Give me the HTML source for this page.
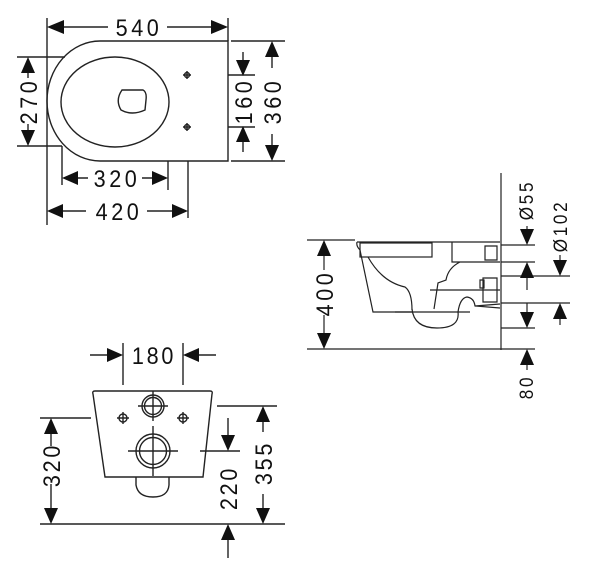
<!DOCTYPE html>
<html><head><meta charset="utf-8"><style>
html,body{margin:0;padding:0;background:#fff;}
svg{display:block;}
text{font-family:"Liberation Sans",sans-serif;fill:#111;}
</style></head><body>
<svg width="600" height="584" viewBox="0 0 600 584" xmlns="http://www.w3.org/2000/svg">
<g stroke="#222" stroke-width="1.4" fill="none">
<!-- TOP VIEW -->
<path d="M100,41 L228,41 L228,161 L100,161 A53,60 0 0 1 100,41 Z"/>
<ellipse cx="115" cy="102" rx="54" ry="45"/>
<path d="M122,90 L143,90 Q147,92 146,100 L145,110 Q132,116 121,110 Q115,100 122,90 Z"/>
<circle cx="187" cy="75" r="2.5"/><path d="M183,75h8M187,71v8"/>
<circle cx="187" cy="127" r="2.5"/><path d="M183,127h8M187,123v8"/>
<path d="M47,18V225M228,18V41M17,57H65M17,146H62M228,75H255M228,127H255M231,41H285M231,161H285M62,146V185M168,161V190M188,161V218"/>
<path d="M62,27H108M167,27H213M28,71V78M28,124V132M243,52V60M243,142V152M272,55V68M272,134V147M78,178H88M142,178H152M63,211H86M147,211H172"/>
</g>
<g fill="#111">
<polygon points="47,27 64,20 64,34"/><polygon points="228,27 211,20 211,34"/>
<polygon points="28,57 21,73 35,73"/><polygon points="28,146 21,130 35,130"/>
<polygon points="243,76 236,60 250,60"/><polygon points="243,126 236,142 250,142"/>
<polygon points="272,41 265,57 279,57"/><polygon points="272,161 265,145 279,145"/>
<polygon points="62,178 78,171 78,185"/><polygon points="168,178 152,171 152,185"/>
<polygon points="47,211 63,204 63,218"/><polygon points="188,211 172,204 172,218"/>
</g>
<g font-size="24" letter-spacing="4" text-anchor="middle">
<text transform="translate(139,36) scale(0.9,1)">540</text>
<text transform="translate(117,187) scale(0.9,1)">320</text>
<text transform="translate(119,220) scale(0.9,1)">420</text>
<text transform="translate(37,101) rotate(-90) scale(0.9,1)">270</text>
<text transform="translate(252,101) rotate(-90) scale(0.9,1)">160</text>
<text transform="translate(281,101) rotate(-90) scale(0.9,1)">360</text>
</g>

<!-- SIDE VIEW -->
<g stroke="#222" stroke-width="1.2" fill="none">
<path d="M501,173V350M307,349H501M307,240H355"/>
<path d="M357,242 L500,242 M357,242 Q356,246 360,250 L373,312 L413,312 M412,309 Q414,328 437,328 Q460,328 458,312 Q460,298 467,297 Q474,298 475,306 L500,308"/>
<rect x="360" y="243" width="72" height="14"/>
<path d="M368,257 Q382,282 405,287 Q412,292 412,310"/>
<path d="M452,242 V262 H500 M460,262 Q448,268 446,280 L438,283 L434,309 M430,290H500 M483,278h14v24h-14z M485,246h12v14h-12z M480,280h4v8h-4z M475,306 L500,304 M395,312H470"/>
<path d="M501,245H535M501,262H535M501,276H570M501,303H570M501,328H535M501,349H535"/>
<path d="M324,256V270M324,315V333M527,226V229M527,278V290M527,303V312M527,365V370M560,255V260M560,319V325"/>
</g>
<g fill="#111">
<polygon points="324,240 317,256 331,256"/><polygon points="324,349 317,333 331,333"/>
<polygon points="527,245 520,229 534,229"/><polygon points="527,262 520,278 534,278"/>
<polygon points="560,276 553,260 567,260"/><polygon points="560,303 553,319 567,319"/>
<polygon points="527,328 520,312 534,312"/><polygon points="527,349 520,365 534,365"/>
</g>
<g font-size="24" letter-spacing="4" text-anchor="middle">
<text transform="translate(333,293) rotate(-90) scale(0.9,1)">400</text>
</g>
<g font-size="19" letter-spacing="3" text-anchor="middle">
<text transform="translate(533,200) rotate(-90) scale(0.9,1)">Ø55</text>
<text transform="translate(567,226) rotate(-90) scale(0.9,1)">Ø102</text>
<text transform="translate(533,387) rotate(-90) scale(0.9,1)">80</text>
</g>

<!-- FRONT VIEW -->
<g stroke="#222" stroke-width="1.4" fill="none">
<path d="M95,391 H210 Q213,391 212,394 L203,477 H105 L93,394 Q92,391 95,391 Z"/>
<path d="M136,477 V485 Q138,497 153,497 Q168,497 169,485 V477"/>
<circle cx="153" cy="406" r="11"/><circle cx="153" cy="406" r="8.5"/>
<path d="M138,406H168M153,391V421"/>
<circle cx="153" cy="451" r="17"/><circle cx="153" cy="451" r="13.5"/>
<path d="M128,451H178M153,426V476"/>
<circle cx="123" cy="418" r="4"/><path d="M117,418h12M123,412v12"/>
<circle cx="183" cy="418" r="4"/><path d="M177,418h12M183,412v12"/>
<path d="M123,343V385M183,343V385M90,355H107M199,355H216"/>
<path d="M40,418H91M40,524H285M200,451H240M217,406H277"/>
<path d="M51,434V446M51,484V508M228,418V435M228,540V558M263,422V432M263,494V508"/>
</g>
<g fill="#111">
<polygon points="123,355 107,348 107,362"/><polygon points="183,355 199,348 199,362"/>
<polygon points="51,418 44,434 58,434"/><polygon points="51,524 44,508 58,508"/>
<polygon points="228,451 221,435 235,435"/><polygon points="228,524 221,540 235,540"/>
<polygon points="263,406 256,422 270,422"/><polygon points="263,524 256,508 270,508"/>
</g>
<g font-size="24" letter-spacing="3" text-anchor="middle">
<text transform="translate(154,364) scale(0.9,1)">180</text>
<text transform="translate(60,465) rotate(-90) scale(0.9,1)">320</text>
<text transform="translate(237,488) rotate(-90) scale(0.9,1)">220</text>
<text transform="translate(272,463) rotate(-90) scale(0.9,1)">355</text>
</g>
</svg>
</body></html>
